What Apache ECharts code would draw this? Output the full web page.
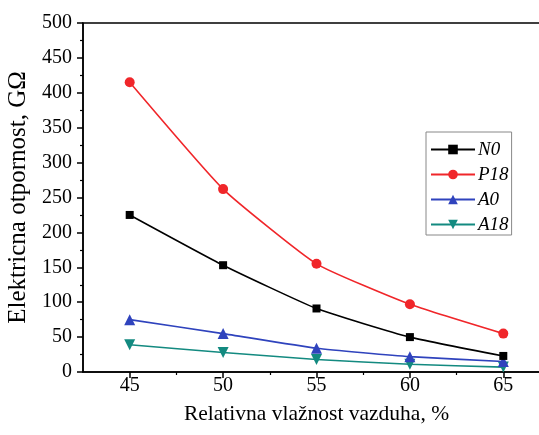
<!DOCTYPE html>
<html>
<head>
<meta charset="utf-8">
<script src="https://cdn.jsdelivr.net/npm/echarts@6/dist/echarts.min.js"></script>
<style>
html,body{margin:0;padding:0;background:#fff;}
#chart{width:539px;height:435px;}
</style>
</head>
<body>
<div id="chart"></div>
<script>
// ---- data ----
const humidity = [45, 50, 55, 60, 65];
const seriesNames = ['N0', 'P18', 'A0', 'A18'];
const N0  = [225, 153, 91, 50, 23];
const P18 = [415, 262, 155, 97, 55];
const A0  = [75, 55, 34, 22, 15];
const A18 = [39, 28, 18, 11, 7];
const xMajorTicks = [45, 50, 55, 60, 65];
const xMinorTicks = [47.5, 52.5, 57.5, 62.5];
const xTitle = 'Relativna vlažnost vazduha, %';
const yTitle = 'Elektricna otpornost, GΩ';

const FONT = '"Liberation Serif", "DejaVu Serif", serif';
const colors = ['#000000', '#f0262a', '#2f43bd', '#138a80'];
const symbols = ['rect', 'circle', 'triangle', 'triangle'];
const symbolSizes = [8, 10, 11, 11];
const rotates = [0, 0, 0, 180];
const values = [N0, P18, A0, A18];

const chart = echarts.init(document.getElementById('chart'), null, {renderer: 'canvas'});
const axisLineStyle = {color: '#000', width: 1.5};

const option = {
  backgroundColor: '#fff',
  animation: false,
  grid: {left: 83, top: 23, right: -11, bottom: 63, containLabel: false, outerBoundsMode: 'none',
         show: true, borderColor: '#000', borderWidth: 1.5, backgroundColor: 'transparent'},
  legend: {
    orient: 'vertical',
    left: 426, top: 132,
    padding: [8, 3, 1, 4],
    itemGap: 6,
    itemWidth: 44,
    itemHeight: 12,
    borderColor: '#888',
    borderWidth: 1,
    data: seriesNames,
    textStyle: {fontFamily: FONT, fontSize: 19, fontStyle: 'italic', color: '#000', padding: [0,0,0,-2]}
  },
  xAxis: [
    {
      type: 'value', position: 'bottom', min: 42.5, max: 67.5,
      name: xTitle, nameLocation: 'middle', nameGap: 31,
      nameTextStyle: {fontFamily: FONT, fontSize: 21.5, color: '#000'},
      axisLine: {show: true, lineStyle: axisLineStyle},
      axisTick: {show: true, length: 6, inside: false, customValues: xMajorTicks, lineStyle: {color: '#000', width: 1.5}},
      axisLabel: {show: true, customValues: xMajorTicks, margin: 4, fontFamily: FONT, fontSize: 20, color: '#000'},
      splitLine: {show: false}
    },
    {
      type: 'value', position: 'bottom', min: 42.5, max: 67.5,
      axisLine: {show: false},
      axisTick: {show: true, length: 3, customValues: xMinorTicks, lineStyle: {color: '#000', width: 1.2}},
      axisLabel: {show: false},
      splitLine: {show: false}
    }
  ],
  yAxis: {
    type: 'value', min: 0, max: 500, interval: 50,
    name: yTitle, nameLocation: 'middle', nameGap: 48,
    nameTextStyle: {fontFamily: FONT, fontSize: 25, color: '#000'},
    axisLine: {show: true, lineStyle: axisLineStyle},
    axisTick: {show: true, length: 6, lineStyle: {color: '#000', width: 1.5}},
    minorTick: {show: true, splitNumber: 2, length: 3, lineStyle: {color: '#000', width: 1.2}},
    axisLabel: {margin: 11, fontFamily: FONT, fontSize: 20, color: '#000'},
    splitLine: {show: false},
    minorSplitLine: {show: false}
  },
  series: seriesNames.map((name, i) => ({
    name: name,
    type: 'line',
    xAxisIndex: 0,
    data: humidity.map((h, j) => [h, values[i][j]]),
    symbol: symbols[i],
    symbolSize: symbolSizes[i],
    symbolRotate: rotates[i],
    smooth: 0.15,
    itemStyle: {color: colors[i]},
    lineStyle: {color: colors[i], width: 1.6},
    z: 10 - i
  }))
};
chart.setOption(option);
</script>
</body>
</html>
